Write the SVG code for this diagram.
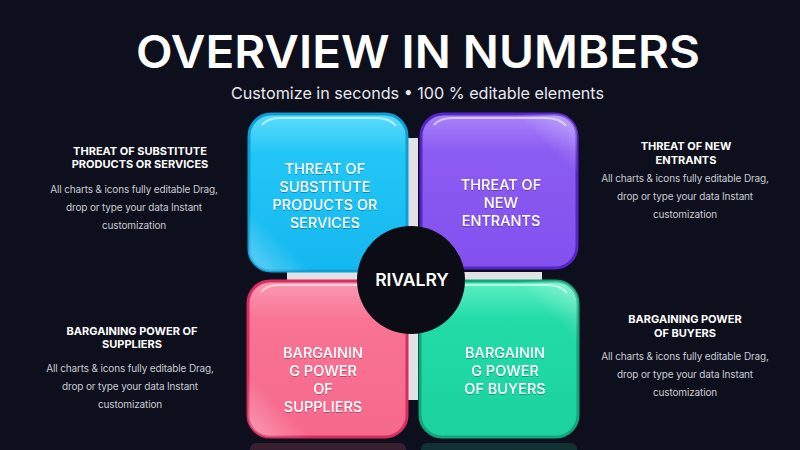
<svg xmlns="http://www.w3.org/2000/svg" width="800" height="450" viewBox="0 0 800 450">
  <defs>
    <style>
      .title { font-family: Inter, "Noto Sans", sans-serif; font-weight: 600; fill: #ffffff; }
      .sub { font-family: Inter, "Noto Sans", sans-serif; font-weight: 400; fill: #e8e8ee; }
      .head { font-family: Inter, "Noto Sans", sans-serif; font-weight: 700; font-size: 11px; fill: #ffffff; text-anchor: middle; }
      .body { font-family: Inter, "Noto Sans", sans-serif; font-weight: 400; font-size: 10px; fill: #c9cad2; text-anchor: middle; letter-spacing: -0.15px; }
      .lbl { font-family: Inter, "Noto Sans", sans-serif; font-weight: 500; font-size: 14.5px; fill: #ffffff; text-anchor: middle; }
      .hl { fill: none; stroke: #ffffff; stroke-width: 2; stroke-opacity: 0.55; }
      .bar { fill: #e2e2e6; }
    </style>
    <linearGradient id="gCyan" x1="0" y1="0" x2="0" y2="1">
      <stop offset="0" stop-color="#5fdcfb"/>
      <stop offset="0.25" stop-color="#22c6f6"/>
      <stop offset="1" stop-color="#14b8f0"/>
    </linearGradient>
    <linearGradient id="gPurple" x1="0" y1="0" x2="0" y2="1">
      <stop offset="0" stop-color="#a883fa"/>
      <stop offset="0.25" stop-color="#8b5cf2"/>
      <stop offset="1" stop-color="#8350ee"/>
    </linearGradient>
    <linearGradient id="gPink" x1="0" y1="0" x2="0" y2="1">
      <stop offset="0" stop-color="#fb9ab2"/>
      <stop offset="0.25" stop-color="#f87394"/>
      <stop offset="1" stop-color="#f6698c"/>
    </linearGradient>
    <linearGradient id="gGreen" x1="0" y1="0" x2="0" y2="1">
      <stop offset="0" stop-color="#5ef0c4"/>
      <stop offset="0.25" stop-color="#22dba6"/>
      <stop offset="1" stop-color="#1cd29f"/>
    </linearGradient>
    <linearGradient id="gShine" x1="0" y1="1" x2="1" y2="0">
      <stop offset="0" stop-color="#ffffff" stop-opacity="0.35"/>
      <stop offset="0.2" stop-color="#ffffff" stop-opacity="0"/>
      <stop offset="1" stop-color="#ffffff" stop-opacity="0"/>
    </linearGradient>
    <filter id="ts" x="-10%" y="-10%" width="120%" height="130%">
      <feDropShadow dx="0" dy="1" stdDeviation="0.6" flood-color="#000000" flood-opacity="0.3"/>
    </filter>
  </defs>

  <rect width="800" height="450" fill="#0e0f1c"/>

  <g id="header">
    <text class="title" x="418" y="68" font-size="45" text-anchor="middle" textLength="564" lengthAdjust="spacingAndGlyphs">OVERVIEW IN NUMBERS</text>
    <text class="sub" x="417.5" y="99" font-size="16.5" text-anchor="middle" textLength="373" lengthAdjust="spacingAndGlyphs">Customize in seconds • 100 % editable elements</text>
  </g>

  <!-- faint reflections -->
  <g id="reflections" opacity="0.18">
    <rect x="250" y="443" width="156" height="12" rx="6" fill="#f6698c"/>
    <rect x="421" y="443" width="156" height="12" rx="6" fill="#1cd29f"/>
  </g>

  <g id="connectors">
    <rect class="bar" x="407" y="138" width="11" height="262"/>
    <rect class="bar" x="287" y="272" width="255" height="8"/>
  </g>

  <g id="node-substitutes">
    <rect x="249" y="114" width="158" height="157" rx="22" fill="url(#gCyan)" stroke="#0b9fd6" stroke-width="3"/>
    <rect x="249" y="114" width="158" height="157" rx="22" fill="url(#gShine)"/>
    <path class="hl" d="M 262 125 Q 268 118 280 118 L 376 118 Q 390 118 396 126"/>
    <g filter="url(#ts)">
      <text class="lbl" x="325" y="174">THREAT OF</text>
      <text class="lbl" x="325" y="192">SUBSTITUTE</text>
      <text class="lbl" x="325" y="210">PRODUCTS OR</text>
      <text class="lbl" x="325" y="228">SERVICES</text>
    </g>
  </g>

  <g id="node-entrants">
    <rect x="421" y="114" width="156" height="154" rx="22" fill="url(#gPurple)" stroke="#5626c9" stroke-width="3"/>
    <rect x="421" y="114" width="156" height="154" rx="22" fill="url(#gShine)" transform="rotate(180 499 191)"/>
    <path class="hl" d="M 434 125 Q 440 118 452 118 L 546 118 Q 560 118 566 126"/>
    <g filter="url(#ts)">
      <text class="lbl" x="501" y="190">THREAT OF</text>
      <text class="lbl" x="501" y="208">NEW</text>
      <text class="lbl" x="501" y="226">ENTRANTS</text>
    </g>
  </g>

  <g id="node-suppliers">
    <rect x="248" y="281" width="159" height="156" rx="22" fill="url(#gPink)" stroke="#d62f5f" stroke-width="3"/>
    <rect x="248" y="281" width="159" height="156" rx="22" fill="url(#gShine)"/>
    <path class="hl" d="M 261 292 Q 267 285 279 285 L 376 285 Q 390 285 396 293"/>
    <g filter="url(#ts)">
      <text class="lbl" x="323" y="358">BARGAININ</text>
      <text class="lbl" x="323" y="376">G POWER</text>
      <text class="lbl" x="323" y="394">OF</text>
      <text class="lbl" x="323" y="412">SUPPLIERS</text>
    </g>
  </g>

  <g id="node-buyers">
    <rect x="420" y="281" width="158" height="156" rx="22" fill="url(#gGreen)" stroke="#12a57c" stroke-width="3"/>
    <rect x="420" y="281" width="158" height="156" rx="22" fill="url(#gShine)" transform="rotate(180 499 359)"/>
    <path class="hl" d="M 433 292 Q 439 285 451 285 L 547 285 Q 561 285 567 293"/>
    <g filter="url(#ts)">
      <text class="lbl" x="505" y="358">BARGAININ</text>
      <text class="lbl" x="505" y="376">G POWER</text>
      <text class="lbl" x="505" y="394">OF BUYERS</text>
    </g>
  </g>

  <g id="node-rivalry">
    <circle cx="411" cy="280" r="54" fill="#0b0c14"/>
    <text x="412" y="286" font-family="Inter, 'Noto Sans', sans-serif" font-weight="600" font-size="17.5" fill="#ffffff" text-anchor="middle">RIVALRY</text>
  </g>

  <g id="desc-substitutes">
    <text class="head" x="140" y="155">THREAT OF SUBSTITUTE</text>
    <text class="head" x="140" y="168">PRODUCTS OR SERVICES</text>
    <text class="body" x="134" y="193">All charts &amp; icons fully editable Drag,</text>
    <text class="body" x="134" y="211">drop or type your data Instant</text>
    <text class="body" x="134" y="229">customization</text>
  </g>

  <g id="desc-suppliers">
    <text class="head" x="132" y="335">BARGAINING POWER OF</text>
    <text class="head" x="132" y="348">SUPPLIERS</text>
    <text class="body" x="130" y="372">All charts &amp; icons fully editable Drag,</text>
    <text class="body" x="130" y="390">drop or type your data Instant</text>
    <text class="body" x="130" y="408">customization</text>
  </g>

  <g id="desc-entrants">
    <text class="head" x="686" y="150">THREAT OF NEW</text>
    <text class="head" x="686" y="164">ENTRANTS</text>
    <text class="body" x="685" y="182">All charts &amp; icons fully editable Drag,</text>
    <text class="body" x="685" y="200">drop or type your data Instant</text>
    <text class="body" x="685" y="218">customization</text>
  </g>

  <g id="desc-buyers">
    <text class="head" x="685" y="323">BARGAINING POWER</text>
    <text class="head" x="685" y="337">OF BUYERS</text>
    <text class="body" x="685" y="360">All charts &amp; icons fully editable Drag,</text>
    <text class="body" x="685" y="378">drop or type your data Instant</text>
    <text class="body" x="685" y="396">customization</text>
  </g>
</svg>
